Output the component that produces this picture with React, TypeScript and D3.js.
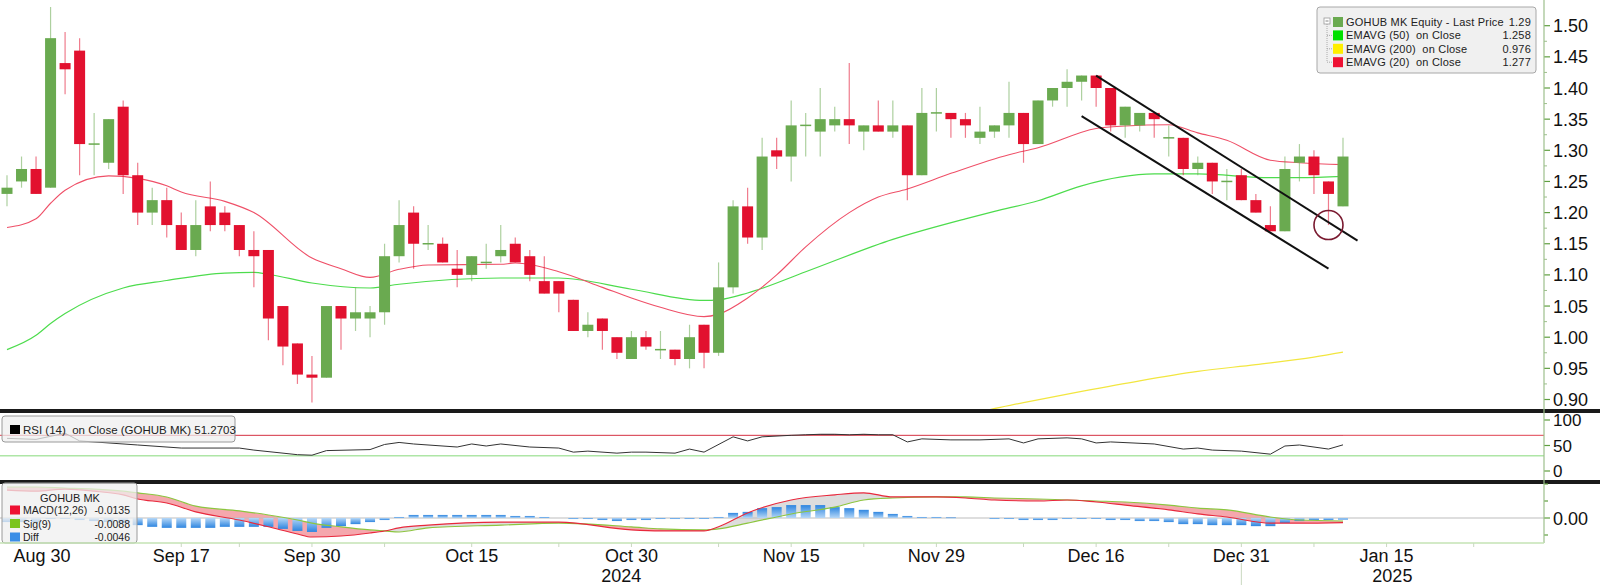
import React from "react";
import * as d3 from "d3";

// ---------- DATA ----------
const open = [1.23,1.25,1.27,1.24,1.44,1.46,1.31,1.28,1.37,1.26,1.20,1.22,1.18,1.14,1.21,1.20,1.18,1.14,1.14,1.05,0.99,0.94,0.935,1.05,1.03,1.03,1.04,1.13,1.20,1.15,1.15,1.11,1.10,1.12,1.13,1.15,1.13,1.09,1.09,1.06,1.01,1.03,1.00,0.965,1.00,0.98,0.98,0.965,1.02,0.975,1.08,1.21,1.16,1.30,1.29,1.34,1.33,1.34,1.35,1.33,1.34,1.33,1.34,1.26,1.36,1.36,1.35,1.32,1.33,1.34,1.36,1.31,1.38,1.40,1.41,1.42,1.40,1.34,1.34,1.36,1.32,1.32,1.27,1.28,1.25,1.26,1.22,1.18,1.17,1.28,1.29,1.25,1.21];
const high = [1.26,1.29,1.29,1.53,1.49,1.48,1.36,1.35,1.38,1.28,1.24,1.24,1.20,1.22,1.25,1.21,1.18,1.17,1.14,1.05,0.99,0.97,1.05,1.05,1.08,1.05,1.15,1.22,1.21,1.18,1.16,1.14,1.13,1.15,1.18,1.16,1.14,1.13,1.09,1.06,1.04,1.03,1.00,1.01,1.01,1.01,0.98,1.02,1.02,1.12,1.22,1.24,1.32,1.32,1.38,1.36,1.40,1.37,1.44,1.34,1.38,1.38,1.34,1.40,1.40,1.36,1.36,1.37,1.34,1.41,1.36,1.38,1.40,1.43,1.42,1.42,1.40,1.37,1.36,1.36,1.34,1.32,1.29,1.28,1.27,1.27,1.23,1.21,1.29,1.31,1.30,1.25,1.32];
const low = [1.21,1.24,1.23,1.24,1.39,1.26,1.26,1.27,1.23,1.18,1.18,1.16,1.14,1.13,1.17,1.17,1.13,1.08,0.995,0.955,0.925,0.895,0.935,0.98,1.01,1.00,1.02,1.12,1.11,1.14,1.12,1.08,1.09,1.11,1.12,1.12,1.09,1.07,1.04,1.01,1.00,0.98,0.965,0.965,0.98,0.965,0.955,0.95,0.95,0.97,1.07,1.15,1.14,1.27,1.25,1.29,1.29,1.33,1.31,1.30,1.33,1.32,1.22,1.26,1.33,1.32,1.32,1.31,1.32,1.32,1.28,1.31,1.37,1.37,1.38,1.37,1.33,1.32,1.33,1.32,1.29,1.26,1.26,1.23,1.22,1.22,1.20,1.17,1.17,1.25,1.23,1.18,1.21];
const close = [1.24,1.27,1.23,1.48,1.43,1.31,1.31,1.35,1.26,1.20,1.22,1.18,1.14,1.18,1.18,1.18,1.14,1.13,1.03,0.985,0.94,0.935,1.05,1.03,1.04,1.04,1.13,1.18,1.15,1.15,1.12,1.10,1.13,1.12,1.14,1.12,1.10,1.07,1.07,1.01,1.02,1.01,0.975,1.00,0.985,0.98,0.965,1.00,0.975,1.08,1.21,1.16,1.29,1.29,1.34,1.34,1.35,1.35,1.34,1.34,1.33,1.34,1.26,1.36,1.36,1.35,1.34,1.33,1.34,1.36,1.31,1.38,1.40,1.41,1.42,1.40,1.34,1.37,1.36,1.35,1.32,1.27,1.28,1.25,1.25,1.22,1.20,1.17,1.27,1.29,1.26,1.23,1.29];

const ema20Idx = [0,2,3,4,7,9,11,12,15,17,21,23,25,27,29,34,35,38,41,43,45,48,49,51,53,55,58,60,62,65,69,71,75,77,80,82,84,87,89,92];
const ema20Val = [1.176,1.190,1.215,1.236,1.259,1.255,1.243,1.233,1.218,1.200,1.127,1.110,1.096,1.109,1.116,1.117,1.119,1.105,1.080,1.063,1.048,1.033,1.037,1.063,1.100,1.145,1.200,1.225,1.238,1.263,1.293,1.304,1.335,1.339,1.341,1.328,1.316,1.284,1.280,1.277];

const ema50Idx = [0,2,3,4,8,11,15,17,18,21,25,27,34,38,43,48,49,51,55,61,66,68,71,74,79,82,87,89,92];
const ema50Val = [0.980,1.003,1.022,1.038,1.079,1.091,1.103,1.104,1.101,1.087,1.079,1.085,1.095,1.095,1.077,1.059,1.060,1.071,1.105,1.157,1.190,1.202,1.219,1.243,1.262,1.262,1.256,1.256,1.258];

const ema200Idx = [64,66,70,74,78,82,86,90,92];
const ema200Val = [0.868,0.876,0.895,0.913,0.930,0.945,0.956,0.968,0.976];

const rsiIdx = [0,2,4,5,9,12,16,17,20,21,22,25,26,27,28,31,32,33,34,36,38,39,40,42,43,44,46,47,48,50,51,52,54,55,56,57,58,59,60,61,62,63,65,67,69,70,71,73,74,75,76,79,81,82,83,85,87,88,89,91,92];
const rsiVal = [64,62,74,59,51,45,45,41,32,31,40,42,52,56,53,47,53,49,53,47,45,37,39,35,37,37,35,43,37,67,59,67,70,71,72,72,71,72,71,71,57,63,61,61,63,55,63,65,63,55,57,53,43,45,41,39,33,49,51,43,51.27];

const macdIdx = [0,2,4,6,8,9,11,13,16,18,20,21,23,25,26,27,29,34,38,43,45,48,49,51,54,57,59,61,64,66,68,71,73,75,77,80,82,84,87,89,92];
const macdVal = [0.082,0.079,0.085,0.079,0.068,0.056,0.044,0.018,-0.006,-0.026,-0.047,-0.056,-0.053,-0.044,-0.038,-0.029,-0.021,-0.012,-0.012,-0.035,-0.038,-0.038,-0.026,0.015,0.053,0.068,0.074,0.062,0.062,0.059,0.053,0.050,0.053,0.047,0.038,0.024,0.012,0.003,-0.015,-0.015,-0.0135];
const sigVal = [0.091,0.091,0.088,0.085,0.079,0.074,0.062,0.035,0.021,0.009,-0.006,-0.015,-0.026,-0.035,-0.038,-0.041,-0.029,-0.021,-0.015,-0.026,-0.032,-0.035,-0.032,-0.015,0.012,0.032,0.053,0.059,0.062,0.062,0.059,0.056,0.053,0.050,0.047,0.038,0.029,0.024,0.003,-0.006,-0.0088];
const diffVal = [-0.012,-0.012,-0.012,-0.003,-0.003,-0.006,-0.009,-0.012,-0.015,-0.021,
  -0.026,-0.029,-0.029,-0.029,-0.029,-0.026,-0.026,-0.026,-0.026,-0.032,
  -0.038,-0.041,-0.029,-0.024,-0.018,-0.012,-0.006,0.003,0.009,0.009,
  0.009,0.009,0.009,0.009,0.009,0.006,0.006,0.003,0,-0.003,
  -0.003,-0.006,-0.009,-0.006,-0.006,-0.003,-0.003,-0.003,-0.0015,0.003,
  0.015,0.018,0.029,0.032,0.038,0.038,0.038,0.032,0.029,0.024,
  0.018,0.012,0.006,0.003,0.003,0.0015,0,0,-0.003,-0.003,
  -0.006,-0.006,-0.006,-0.003,-0.003,-0.0015,-0.006,-0.006,-0.009,-0.009,
  -0.012,-0.018,-0.018,-0.021,-0.021,-0.021,-0.024,-0.024,-0.015,-0.009,
  -0.006,-0.006,-0.0046];

const priceTicks = [0.90,0.95,1.00,1.05,1.10,1.15,1.20,1.25,1.30,1.35,1.40,1.45,1.50];
const rsiTicks = [0,50,100];
const macdTicks = [-0.05,0,0.05,0.10];
const dateLabels = ["Aug 30","Sep 17","Sep 30","Oct 15","Oct 30","Nov 15","Nov 29","Dec 16","Dec 31","Jan 15"];
const dateLabelIdx = [1,12,21,32,43,54,64,75,85,95];
const yearLabels = ["2024","2025"];
const yearLabelIdx = [42.3,95.4];
const xTickIdx = [12,16,21,26,32,38,43,49,54,59,64,70,75,80,85,90,95,101];
const yearBreakIdx = 85;

const upperTrend = [[75,1.42],[93,1.155]];
const lowerTrend = [[74,1.355],[91,1.11]];
const circleMark = [91,1.18];

const legendMain = [
  { label: "GOHUB MK Equity - Last Price", value: "1.29", color: "#6aaa50" },
  { label: "EMAVG (50)  on Close", value: "1.258", color: "#00e000" },
  { label: "EMAVG (200)  on Close", value: "0.976", color: "#ffee00" },
  { label: "EMAVG (20)  on Close", value: "1.277", color: "#ee1133" },
];
const legendMacd = [
  { label: "MACD(12,26)", value: "-0.0135", color: "#ee1133" },
  { label: "Sig(9)", value: "-0.0088", color: "#7cc51f" },
  { label: "Diff", value: "-0.0046", color: "#3a8ee6" },
];

const FONT = "'Liberation Sans', Arial, sans-serif";
const GREEN = "#6aaa50";
const RED = "#e2112f";
const AXC = "#9dbf8c";

export default function App() {
  const AX = 1544;
  const x = d3.scaleLinear().domain([0, 92]).range([7, 1343]);
  const yP = d3.scaleLinear().domain([0.9, 1.5]).range([399.5, 25.7]);
  const yR = d3.scaleLinear().domain([0, 100]).range([471, 420]);
  const yM = d3.scaleLinear().domain([0, 0.05]).range([518, 501]);
  const bw = 11;

  const pair = (idx: number[], v: number[]) => idx.map((d, k) => [d, v[k]] as [number, number]);
  const lineP = d3.line<[number, number]>().x(d => x(d[0])).y(d => yP(d[1])).curve(d3.curveMonotoneX);
  const lineR = d3.line<[number, number]>().x(d => x(d[0])).y(d => yR(d[1]));
  const lineM = d3.line<[number, number]>().x(d => x(d[0])).y(d => yM(d[1])).curve(d3.curveMonotoneX);

  const mPts = macdIdx.map((d, k) => [d, macdVal[k], sigVal[k]] as [number, number, number]);
  const between = d3.area<[number, number, number]>().x(d => x(d[0])).y0(d => yM(d[1])).y1(d => yM(d[2])).curve(d3.curveMonotoneX);
  const belowSig = d3.area<[number, number, number]>().x(d => x(d[0])).y0(d => yM(d[2])).y1(600).curve(d3.curveMonotoneX);
  const aboveSig = d3.area<[number, number, number]>().x(d => x(d[0])).y0(0).y1(d => yM(d[2])).curve(d3.curveMonotoneX);

  const rPts = pair(rsiIdx, rsiVal);
  const rsiFill = d3.area<[number, number]>().x(d => x(d[0])).y0(yR(70)).y1(d => yR(d[1]));

  const minorTicks = priceTicks.slice(0, -1).map(t => t + 0.025);
  const pre = { whiteSpace: "pre" as const };

  return (
    <svg width={1600} height={588} style={{ position: "absolute", left: 0, top: 0, background: "#fff" }} fontFamily={FONT}>
      <defs>
        <clipPath id="mainClip"><rect x={0} y={0} width={AX} height={409} /></clipPath>
        <clipPath id="redClip"><path d={belowSig(mPts) || ""} /></clipPath>
        <clipPath id="greyClip"><path d={aboveSig(mPts) || ""} /></clipPath>
        <clipPath id="rsiClip"><rect x={0} y={413} width={AX} height={yR(70) - 413} /></clipPath>
        <linearGradient id="negBar" x1="0" y1="0" x2="0" y2="1">
          <stop offset="0" stopColor="#b5d7f7" />
          <stop offset="1" stopColor="#2f86e0" />
        </linearGradient>
        <linearGradient id="posBar" x1="0" y1="0" x2="0" y2="1">
          <stop offset="0" stopColor="#2f86e0" />
          <stop offset="1" stopColor="#b5d7f7" />
        </linearGradient>
      </defs>

      {/* ---------- MAIN PANEL ---------- */}
      <g clipPath="url(#mainClip)">
        <path d={lineP(pair(ema200Idx, ema200Val)) || ""} fill="none" stroke="#f2e640" strokeWidth={1.2} />
        <path d={lineP(pair(ema50Idx, ema50Val)) || ""} fill="none" stroke="#4ddc4d" strokeWidth={1.2} />
        <path d={lineP(pair(ema20Idx, ema20Val)) || ""} fill="none" stroke="#ef5068" strokeWidth={1.1} />
        {close.map((c, i) => {
          const o = open[i];
          const up = c >= o;
          const col = up ? GREEN : RED;
          const cx = x(i);
          const top = yP(Math.max(o, c));
          const bot = yP(Math.min(o, c));
          const h = Math.max(bot - top, 1.5);
          return (
            <g key={i}>
              <line x1={cx} x2={cx} y1={yP(high[i])} y2={yP(low[i])} stroke={col} strokeOpacity={0.55} strokeWidth={1.2} />
              <rect x={cx - bw / 2} y={o === c ? top - 0.75 : top} width={bw} height={h} fill={col} />
            </g>
          );
        })}
        <line x1={x(upperTrend[0][0])} y1={yP(upperTrend[0][1])} x2={x(upperTrend[1][0])} y2={yP(upperTrend[1][1])} stroke="#111" strokeWidth={2} />
        <line x1={x(lowerTrend[0][0])} y1={yP(lowerTrend[0][1])} x2={x(lowerTrend[1][0])} y2={yP(lowerTrend[1][1])} stroke="#111" strokeWidth={2} />
        <circle cx={x(circleMark[0])} cy={yP(circleMark[1])} r={14.5} fill="none" stroke="#7a1a30" strokeWidth={1.6} />
      </g>

      {/* main legend */}
      <g>
        <rect x={1317} y={7} width={219} height={66} rx={3} fill="#f0f0f0" stroke="#a8a8a8" />
        <rect x={1324} y={18} width={6} height={6} fill="#fff" stroke="#999" strokeWidth={0.8} />
        <line x1={1325.5} x2={1328.5} y1={21} y2={21} stroke="#666" strokeWidth={0.8} />
        <line x1={1327} x2={1327} y1={24} y2={62} stroke="#999" strokeWidth={0.8} strokeDasharray="1,1" />
        {legendMain.map((r, k) => {
          const cy = 22 + k * 13.4;
          return (
            <g key={k}>
              {k > 0 && <line x1={1327} x2={1332} y1={cy} y2={cy} stroke="#999" strokeWidth={0.8} strokeDasharray="1,1" />}
              <rect x={1333} y={cy - 5} width={10} height={10} fill={r.color} />
              <text x={1346} y={cy + 4} fontSize={11} letterSpacing={0.2} fill="#222" style={pre}>{r.label}</text>
              <text x={1531} y={cy + 4} fontSize={11} letterSpacing={0.2} fill="#222" textAnchor="end">{r.value}</text>
            </g>
          );
        })}
      </g>

      {/* price axis */}
      {priceTicks.map(t => (
        <g key={t}>
          <line x1={AX} x2={AX + 6} y1={yP(t)} y2={yP(t)} stroke="#5f9f3f" strokeWidth={1.2} />
          <text x={1553} y={yP(t) + 6.5} fontSize={18} fill="#111">{t.toFixed(2)}</text>
        </g>
      ))}
      {minorTicks.map(t => (
        <line key={t} x1={AX} x2={AX + 3} y1={yP(t)} y2={yP(t)} stroke={AXC} />
      ))}

      {/* separators */}
      <rect x={0} y={409} width={1600} height={4} fill="#1a1a1a" />
      <rect x={0} y={480} width={1600} height={4} fill="#1a1a1a" />

      {/* ---------- RSI PANEL ---------- */}
      <line x1={0} x2={AX} y1={yR(70)} y2={yR(70)} stroke="#e0404f" strokeWidth={1} />
      <line x1={0} x2={AX} y1={yR(30)} y2={yR(30)} stroke="#aee6a6" strokeWidth={1.5} />
      <path d={rsiFill(rPts) || ""} fill="#b0102a" clipPath="url(#rsiClip)" />
      <path d={lineR(rPts) || ""} fill="none" stroke="#333" strokeWidth={1} />
      <rect x={2} y={416} width={233} height={26} rx={3} fill="#efefef" fillOpacity={0.75} stroke="#9a9a9a" />
      <rect x={10} y={425} width={10} height={9} fill="#000" />
      <text x={23} y={434} fontSize={11.5} fill="#222" style={pre}>RSI (14)  on Close (GOHUB MK) 51.2703</text>
      {rsiTicks.map(t => (
        <g key={t}>
          <line x1={AX} x2={AX + 6} y1={yR(t)} y2={yR(t)} stroke="#5f9f3f" strokeWidth={1.2} />
          <text x={1553} y={yR(t) + 6} fontSize={17} fill="#111">{t}</text>
        </g>
      ))}

      {/* ---------- MACD PANEL ---------- */}
      <path d={between(mPts) || ""} fill="#f28a92" fillOpacity={0.75} clipPath="url(#redClip)" />
      <path d={between(mPts) || ""} fill="#d4d4d4" fillOpacity={0.8} clipPath="url(#greyClip)" />
      <line x1={0} x2={AX} y1={yM(0)} y2={yM(0)} stroke="#bdbdbd" strokeWidth={1} />
      {diffVal.map((v, i) => {
        const y0 = yM(0);
        const y1 = yM(v);
        const hh = Math.abs(y1 - y0);
        if (hh < 0.3) return null;
        return (
          <rect key={i} x={x(i) - 5} y={Math.min(y0, y1)} width={10} height={Math.max(hh, 1)} fill={v < 0 ? "url(#negBar)" : "url(#posBar)"} />
        );
      })}
      <path d={lineM(pair(macdIdx, sigVal)) || ""} fill="none" stroke="#8cc63f" strokeWidth={1.1} />
      <path d={lineM(pair(macdIdx, macdVal)) || ""} fill="none" stroke="#e8283c" strokeWidth={1.1} />
      <rect x={2} y={483} width={135} height={60} rx={3} fill="#efefef" fillOpacity={0.75} stroke="#9a9a9a" />
      <text x={70} y={502} fontSize={11} fill="#222" textAnchor="middle">GOHUB MK</text>
      {legendMacd.map((r, k) => {
        const cy = 510 + k * 13.5;
        return (
          <g key={k}>
            <rect x={10} y={cy - 4.5} width={10} height={9} fill={r.color} />
            <text x={23} y={cy + 4} fontSize={10.5} fill="#222">{r.label}</text>
            <text x={130} y={cy + 4} fontSize={10.5} fill="#222" textAnchor="end">{r.value}</text>
          </g>
        );
      })}
      {macdTicks.map(t => (
        <line key={t} x1={AX} x2={AX + (t === 0 ? 6 : 4)} y1={yM(t)} y2={yM(t)} stroke="#5f9f3f" strokeWidth={1.2} />
      ))}
      <text x={1553} y={yM(0) + 6.5} fontSize={18} fill="#111">0.00</text>

      {/* right axis line */}
      <line x1={AX} x2={AX} y1={0} y2={543} stroke={AXC} strokeWidth={1.2} />

      {/* ---------- X AXIS ---------- */}
      <line x1={0} x2={AX} y1={543} y2={543} stroke="#c5e3b5" strokeWidth={1.5} />
      {xTickIdx.map(i => (
        <line key={i} x1={x(i)} x2={x(i)} y1={543} y2={547} stroke="#c9d9c0" />
      ))}
      <line x1={x(yearBreakIdx)} x2={x(yearBreakIdx)} y1={563} y2={585} stroke="#c9d9c0" />
      {dateLabels.map((l, k) => (
        <text key={l} x={Math.max(x(dateLabelIdx[k]), 42)} y={562} fontSize={18} fill="#111" textAnchor="middle">{l}</text>
      ))}
      {yearLabels.map((l, k) => (
        <text key={l} x={x(yearLabelIdx[k])} y={582} fontSize={18} fill="#111" textAnchor="middle">{l}</text>
      ))}
    </svg>
  );
}
